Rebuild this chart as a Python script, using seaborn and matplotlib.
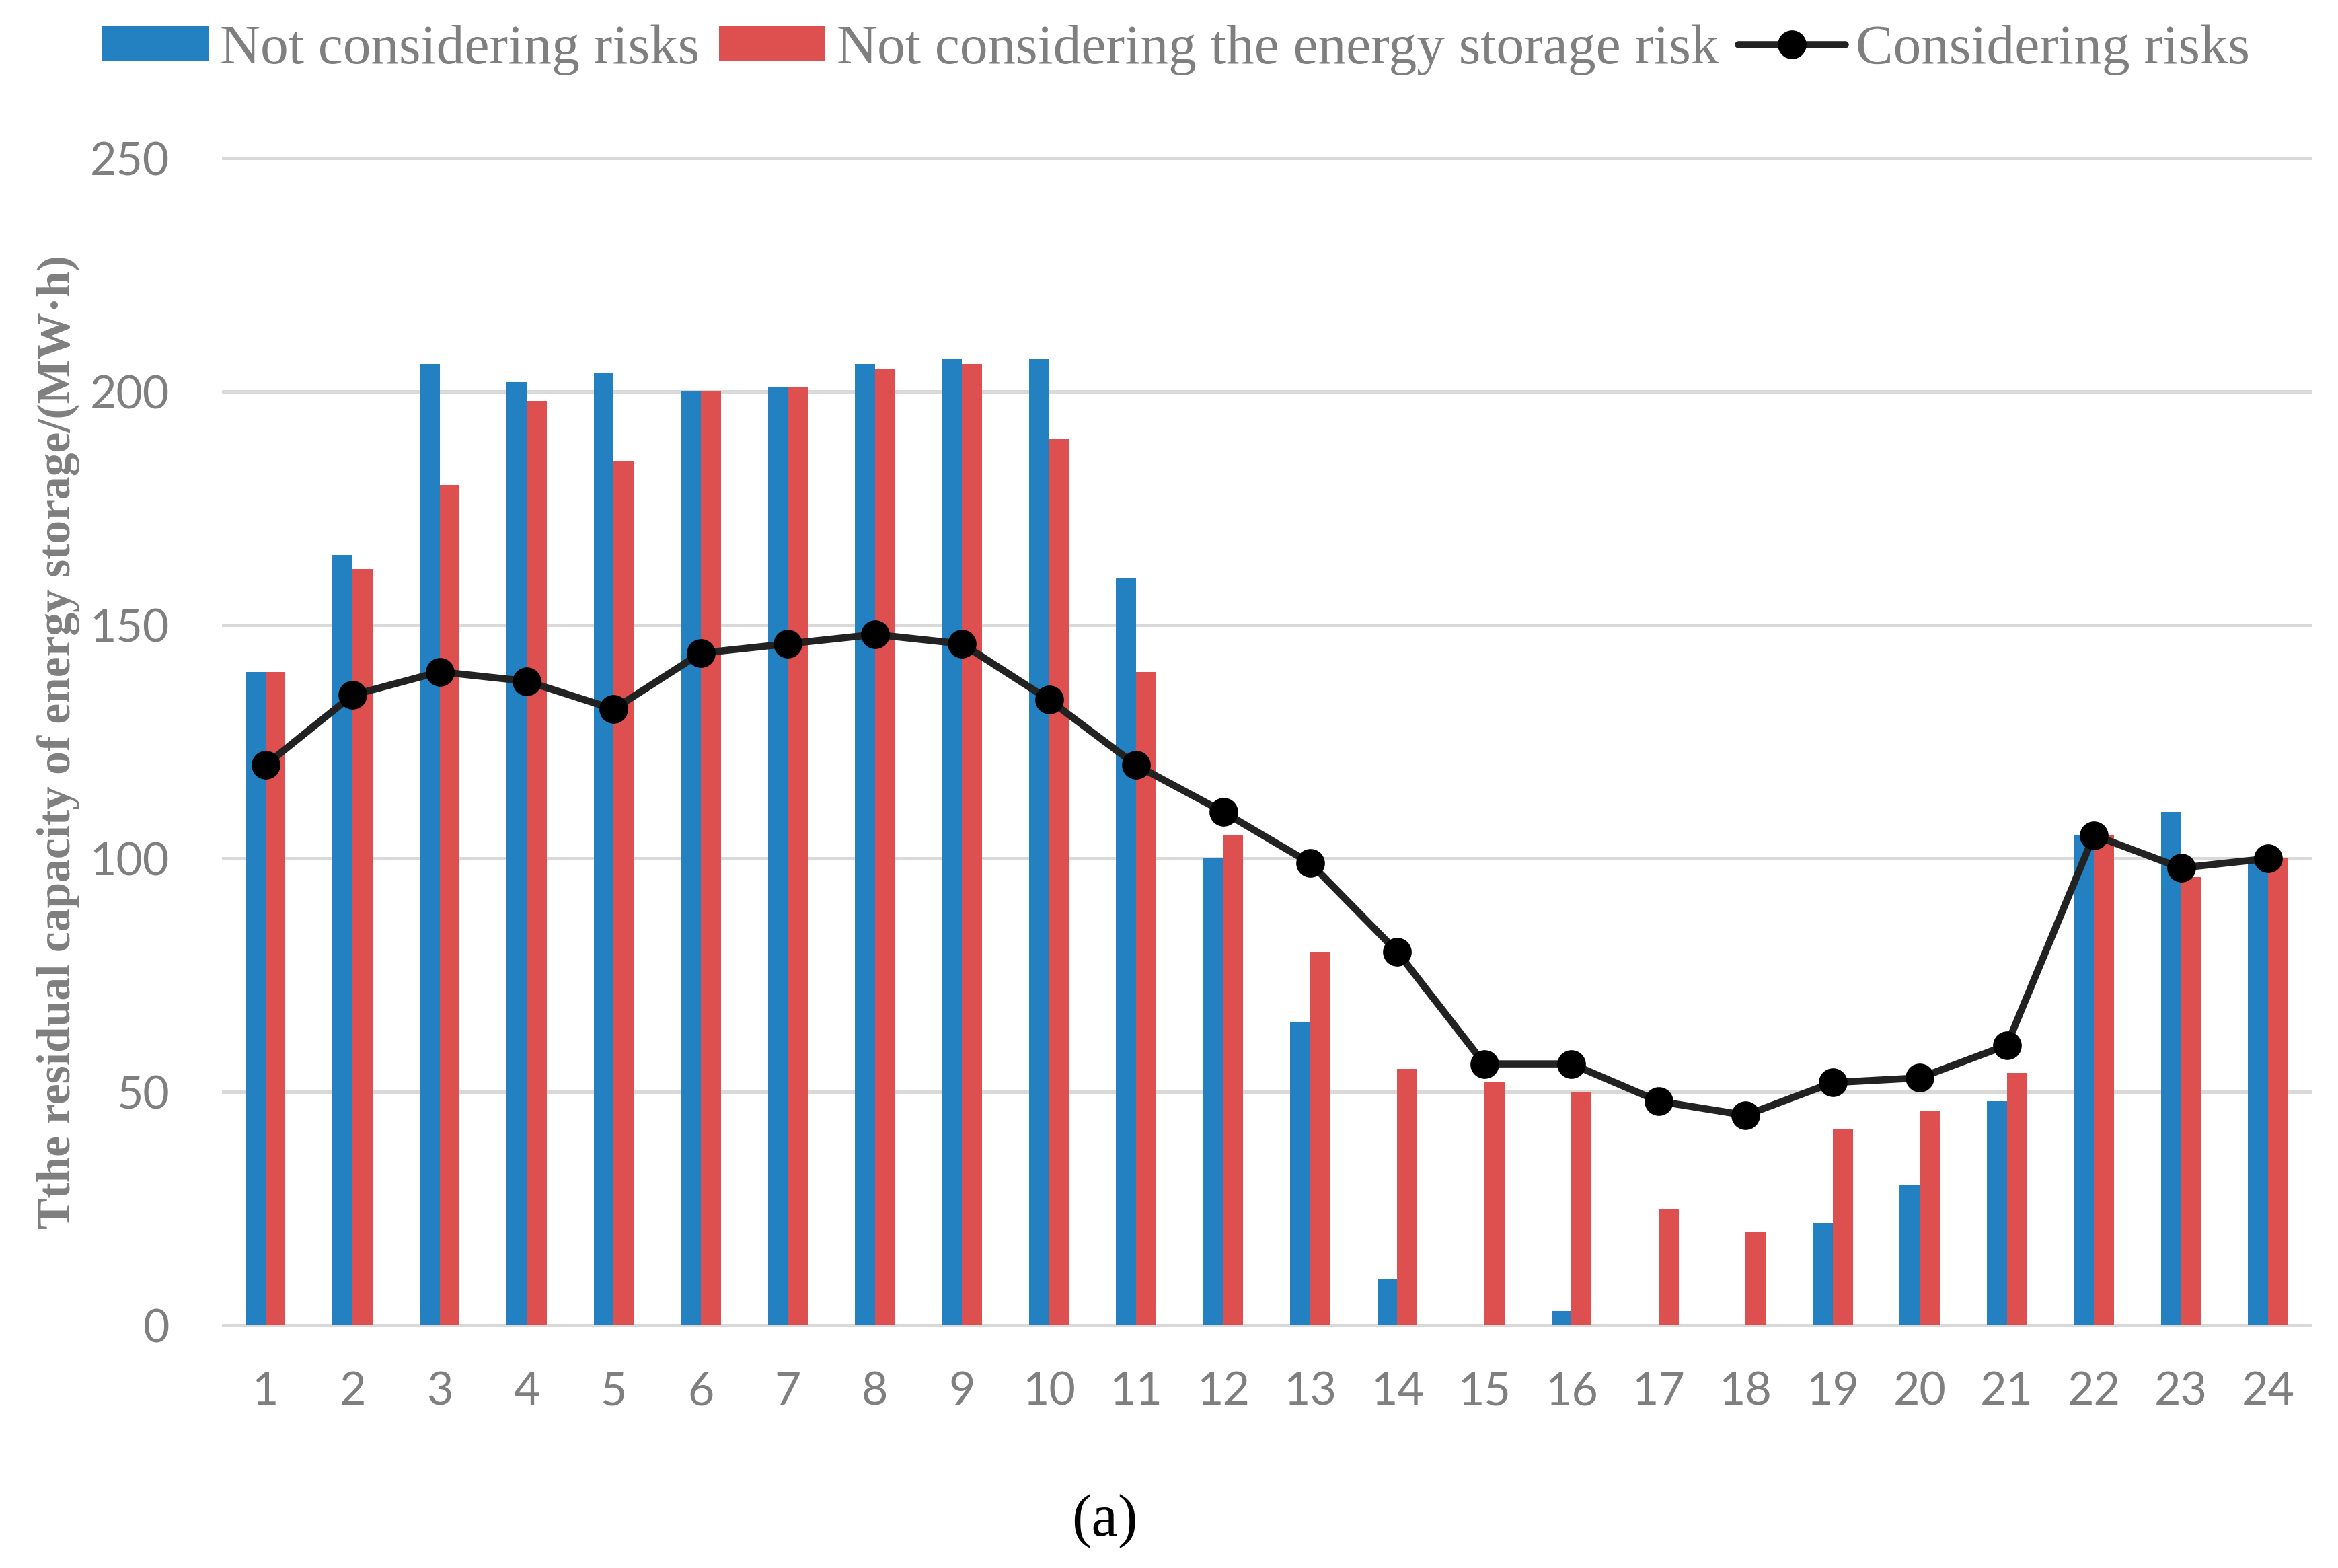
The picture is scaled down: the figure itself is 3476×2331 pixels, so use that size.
# Import Libraries
import pandas as pd
import matplotlib
matplotlib.use("Agg")
import matplotlib.pyplot as plt
import seaborn as sns

# ==========================================
# Data
# ==========================================

hours = [str(h) for h in range(1, 25)]

no_risk = [140, 165, 206, 202, 204, 200, 201, 206, 207, 207, 160, 100,
           65, 10, 0, 3, 0, 0, 22, 30, 48, 105, 110, 100]

no_storage_risk = [140, 162, 180, 198, 185, 200, 201, 205, 206, 190, 140, 105,
                   80, 55, 52, 50, 25, 20, 42, 46, 54, 105, 96, 100]

with_risk = [120, 135, 140, 138, 132, 144, 146, 148, 146, 134, 120, 110,
             99, 80, 56, 56, 48, 45, 52, 53, 60, 105, 98, 100]

label_a = "Not considering risks"
label_b = "Not considering the energy storage risk"
label_c = "Considering risks"

y_ticks = [0, 50, 100, 150, 200, 250]

# Long form table for the bars
df_bars = pd.DataFrame({
    "hour": hours * 2,
    "value": no_risk + no_storage_risk,
    "series": [label_a] * len(hours) + [label_b] * len(hours),
})

df_line = pd.DataFrame({"hour": hours, "value": with_risk})

# ==========================================
# Figure
# ==========================================

sns.set_style("white")

fig = plt.figure(figsize=(17.38, 11.655), dpi=200)
ax = fig.add_axes([0.0949, 0.153, 0.8938, 0.7478])

sns.barplot(
    data=df_bars,
    x="hour",
    y="value",
    hue="series",
    order=hours,
    hue_order=[label_a, label_b],
    palette=["#2481C1", "#DE5050"],
    saturation=1,
    width=0.46,
    gap=0,
    linewidth=0,
    errorbar=None,
    ax=ax,
)

sns.pointplot(
    data=df_line,
    x="hour",
    y="value",
    order=hours,
    color="#222222",
    markers="o",
    markersize=12.5,
    markerfacecolor="black",
    markeredgecolor="black",
    linewidth=3.8,
    errorbar=None,
    label=label_c,
    ax=ax,
)

# ==========================================
# Axes styling
# ==========================================

ax.set_xlim(-0.5, len(hours) - 0.5)
ax.set_ylim(-0.6, 250.6)
ax.set_yticks(y_ticks)

ax.grid(axis="y", color="#D9D9D9", linewidth=1.8)
ax.grid(axis="x", visible=False)
ax.set_axisbelow(True)
for s in ax.spines.values():
    s.set_visible(False)

ax.tick_params(axis="both", length=0, colors="#7F7F7F")
ax.tick_params(axis="x", pad=23)
ax.tick_params(axis="y", pad=28)
for t in ax.get_xticklabels() + ax.get_yticklabels():
    t.set_fontfamily("Lato")
    t.set_fontsize(24.5)

ax.set_xlabel("")
ax.set_ylabel(
    "Tthe residual capacity of energy storage/(MW\u00b7h)",
    family=["Liberation Serif", "DejaVu Serif"],
    fontsize=25,
    fontweight="bold",
    color="#7F7F7F",
)
ax.yaxis.set_label_coords(-0.068, 0.5)

# ==========================================
# Legend
# ==========================================

handles, labels = ax.get_legend_handles_labels()
if ax.get_legend() is not None:
    ax.get_legend().remove()

fig.legend(
    handles,
    labels,
    loc="center",
    bbox_to_anchor=(0.503, 0.968),
    ncol=3,
    frameon=False,
    prop={"family": "Liberation Serif", "size": 30},
    labelcolor="#7F7F7F",
    handlelength=1.9,
    handleheight=0.6,
    handletextpad=0.2,
    columnspacing=0.35,
)

fig.text(0.4724, 0.030, "(a)", ha="center", va="center",
         family="Liberation Serif", fontsize=32, color="black")

plt.savefig("out.png", dpi=200)
